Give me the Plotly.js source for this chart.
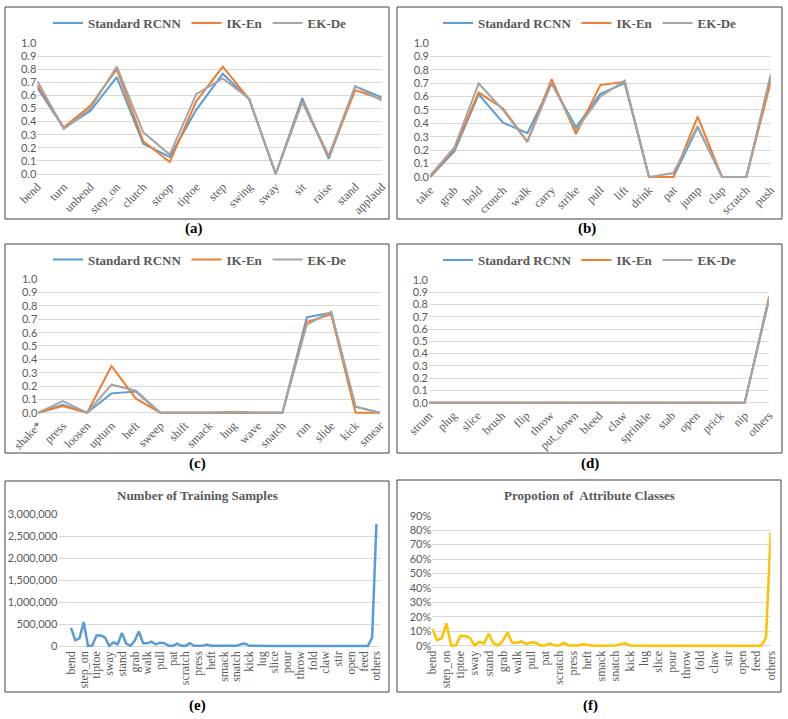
<!DOCTYPE html>
<html>
<head>
<meta charset="utf-8">
<script src="https://cdn.plot.ly/plotly-3.0.1.min.js"></script>
<style>html,body{margin:0;padding:0;background:#fff}</style>
</head>
<body>
<div id="chart" style="width:788px;height:719px"></div>
<script>
// ---- data ----
const seriesNames = ["Standard RCNN", "IK-En", "EK-De"];

const catsA = ["bend", "turn", "unbend", "step_on", "clutch", "stoop", "tiptoe", "step", "swing", "sway", "sit", "raise", "stand", "applaud"];
const rcnnA = [0.66, 0.35, 0.48, 0.74, 0.23, 0.13, 0.49, 0.765, 0.57, 0.0, 0.58, 0.115, 0.67, 0.585];
const ikA   = [0.68, 0.355, 0.52, 0.80, 0.25, 0.092, 0.555, 0.82, 0.57, 0.0, 0.55, 0.13, 0.64, 0.57];
const ekA   = [0.71, 0.343, 0.50, 0.82, 0.318, 0.148, 0.61, 0.73, 0.575, 0.0, 0.555, 0.14, 0.67, 0.56];

const catsB = ["take", "grab", "hold", "crouch", "walk", "carry", "strike", "pull", "lift", "drink", "pat", "jump", "clap", "scratch", "push"];
const rcnnB = [0.0, 0.19, 0.616, 0.406, 0.327, 0.698, 0.371, 0.62, 0.70, 0.0, 0.0, 0.37, 0.0, 0.0, 0.745];
const ikB   = [0.0, 0.21, 0.63, 0.512, 0.265, 0.73, 0.32, 0.686, 0.71, 0.0, 0.0, 0.45, 0.0, 0.0, 0.71];
const ekB   = [0.01, 0.22, 0.698, 0.50, 0.26, 0.70, 0.35, 0.60, 0.72, 0.0, 0.03, 0.38, 0.0, 0.0, 0.767];

const catsC = ["shake*", "press", "loosen", "upturn", "heft", "sweep", "shift", "smack", "hug", "wave", "snatch", "run", "slide", "kick", "smear"];
const rcnnC = [0.0, 0.06, 0.0, 0.145, 0.158, 0.0, 0.0, 0.0, 0.005, 0.0, 0.0, 0.715, 0.75, 0.045, 0.0];
const ikC   = [0.0, 0.05, 0.0, 0.35, 0.105, 0.0, 0.0, 0.0, 0.0, 0.0, 0.0, 0.68, 0.737, 0.0, 0.0];
const ekC   = [0.0, 0.087, 0.0, 0.21, 0.165, 0.0, 0.0, 0.0, 0.008, 0.0, 0.0, 0.66, 0.757, 0.045, 0.0];

const catsD = ["strum", "plug", "slice", "brush", "flip", "throw", "put_down", "bleed", "claw", "sprinkle", "stab", "open", "prick", "nip", "others"];
const rcnnD = [0, 0, 0, 0, 0, 0, 0, 0, 0, 0, 0, 0, 0, 0, 0.84];
const ikD   = [0, 0, 0, 0, 0, 0, 0, 0, 0, 0, 0, 0, 0, 0, 0.864];
const ekD   = [0, 0, 0, 0, 0, 0, 0, 0, 0, 0, 0, 0, 0, 0, 0.85];

// all attribute classes, as used by panels (e) and (f)
const catsAll = [
  "bend", "turn", "unbend", "step_on", "clutch", "stoop", "tiptoe", "step", "swing", "sway",
  "sit", "raise", "stand", "applaud", "take", "grab", "hold", "crouch", "walk", "carry",
  "strike", "pull", "lift", "drink", "pat", "jump", "clap", "scratch", "push", "shake*",
  "press", "loosen", "upturn", "heft", "sweep", "shift", "smack", "hug", "wave", "snatch",
  "run", "slide", "kick", "smear", "strum", "lug", "plug", "cut", "slice", "brush",
  "flip", "pour", "wipe", "scoop", "throw", "put_down", "bleed", "fold", "squeeze", "sprinkle",
  "claw", "stab", "rub", "stir", "peel", "tap", "open", "prick", "nip", "feed",
  "shake", "wash", "others"
];
const trainSamples = [
  415000, 130000, 180000, 545000, 3000, 8000, 240000, 238000, 195000, 5000,
  80000, 40000, 295000, 55000, 6000, 118000, 330000, 62000, 60000, 100000,
  35000, 75000, 65000, 6000, 3000, 55000, 4000, 3000, 62000, 5000,
  4000, 4000, 35000, 8000, 3000, 2000, 2000, 3000, 2000, 3000,
  40000, 58000, 6000, 2000, 1500, 3000, 1500, 1000, 2000, 1500,
  1000, 2000, 1000, 1000, 2500, 1500, 1000, 2000, 1000, 1500,
  2000, 1000, 2000, 1000, 1000, 2500, 1500, 1000, 2000, 1000,
  1500, 195000, 2780000
];
const proportion = [
  11.8, 3.8, 5.1, 15.5, 0.1, 0.2, 6.8, 6.7, 5.4, 0.1,
  2.7, 1.6, 8.3, 1.6, 0.2, 3.3, 9.3, 2.0, 2.0, 3.0,
  1.1, 2.3, 2.0, 0.2, 0.1, 1.6, 0.1, 0.1, 2.0, 0.1,
  0.1, 0.1, 1.0, 0.3, 0.1, 0.05, 0.05, 0.1, 0.05, 0.1,
  1.1, 1.6, 0.2, 0.05, 0.05, 0.1, 0.05, 0.03, 0.05, 0.05,
  0.03, 0.05, 0.03, 0.03, 0.07, 0.05, 0.03, 0.05, 0.03, 0.05,
  0.05, 0.03, 0.05, 0.03, 0.03, 0.07, 0.05, 0.03, 0.05, 0.03,
  0.05, 5.6, 78.3
];
const labelEvery = 3;

// ---- layout helpers (pixel -> paper) ----
const W = 788, H = 719;
const fx = px => px / W;
const fy = py => 1 - py / H;
// pixel of value r given two reference pixels p0 (value v0) and p1 (value v1)
const pixAt = (p0, p1, v0, v1, r) => p0 + (r - v0) * (p1 - p0) / (v1 - v0);

const colors = ["#5b9bd5", "#ed7d31", "#a5a5a5"];
const grey = "#595959";
const serif = "Liberation Serif, Times New Roman, serif";
const sans = "Lato, Liberation Sans, sans-serif";

const data = [];
const layout = {
  width: W, height: H,
  margin: {l: 0, r: 0, t: 0, b: 0},
  paper_bgcolor: "#fff", plot_bgcolor: "rgba(0,0,0,0)",
  shapes: [], annotations: []
};

function xAxis(n, x0, x1, extra) {
  return Object.assign({
    domain: [fx(x0), fx(x1)], anchor: n === 1 ? "y" : "y" + n,
    type: "category", showgrid: false, zeroline: false,
    showline: false, ticks: "", automargin: false,
    tickfont: {family: serif, size: 12, color: grey}
  }, extra || {});
}
function yAxis(n, pBottom, pTop, vBottom, vTop, r0, r1, extra) {
  const d0 = pixAt(pBottom, pTop, vBottom, vTop, r0);
  const d1 = pixAt(pBottom, pTop, vBottom, vTop, r1);
  return Object.assign({
    domain: [fy(d0), fy(d1)], anchor: n === 1 ? "x" : "x" + n,
    range: [r0, r1], showgrid: true, gridcolor: "#d9d9d9",
    gridwidth: 1, zeroline: false, showline: false, ticks: "", automargin: false,
    tickfont: {family: sans, size: 11, color: grey}
  }, extra || {});
}
function frame(x0, y0, x1, y1) {
  layout.shapes.push({type: "rect", xref: "paper", yref: "paper",
    x0: fx(x0), x1: fx(x1), y0: fy(y1), y1: fy(y0),
    line: {color: "#404040", width: 1}});
}
function caption(text, x, y) {
  layout.annotations.push({text: text, xref: "paper", yref: "paper", x: fx(x), y: fy(y),
    showarrow: false, xanchor: "center", yanchor: "middle",
    font: {family: serif, size: 15, color: "#000", weight: "bold"}});
}

// panels (a)-(d): three accuracy series each
const panels = [
  {cats: catsA, vals: [rcnnA, ikA, ekA], box: [5, 7, 389, 219], px: [37.3, 381.7], py: [174, 43], leg: [200, 23], cap: ["(a)", 194, 229]},
  {cats: catsB, vals: [rcnnB, ikB, ekB], box: [397, 7, 782, 219], px: [430, 770.7], py: [177, 43], leg: [590, 23], cap: ["(b)", 587, 229]},
  {cats: catsC, vals: [rcnnC, ikC, ekC], box: [5, 244, 389, 453], px: [38.3, 380], py: [412.7, 279.3], leg: [200, 259.5], cap: ["(c)", 197, 464]},
  {cats: catsD, vals: [rcnnD, ikD, ekD], box: [397, 244, 782, 453], px: [429, 769], py: [402.7, 280], leg: [590, 260], cap: ["(d)", 590, 464]}
];

panels.forEach((p, k) => {
  const n = k + 1;
  const xa = n === 1 ? "x" : "x" + n, ya = n === 1 ? "y" : "y" + n;
  const lg = n === 1 ? "legend" : "legend" + n;
  layout[n === 1 ? "xaxis" : "xaxis" + n] = xAxis(n, p.px[0], p.px[1], {tickangle: -45});
  layout[n === 1 ? "yaxis" : "yaxis" + n] = yAxis(n, p.py[0], p.py[1], 0, 1, -0.02, 1.006,
    {tickmode: "linear", tick0: 0, dtick: 0.1, tickformat: ".1f"});
  p.vals.forEach((v, s) => {
    data.push({x: p.cats, y: v, type: "scatter", mode: "lines", name: seriesNames[s],
      xaxis: xa, yaxis: ya, legend: lg, line: {color: colors[s], width: 2}, hoverinfo: "skip"});
  });
  layout[lg] = {orientation: "h", x: fx(p.leg[0]), y: fy(p.leg[1]), xanchor: "center", yanchor: "middle",
    bgcolor: "rgba(0,0,0,0)", font: {family: serif, size: 13, color: grey, weight: "bold"},
    itemwidth: 30, traceorder: "normal"};
  frame(...p.box);
  caption(...p.cap);
});

// panel (e): number of training samples
const ticksAll = catsAll.filter((c, i) => i % labelEvery === 0);
data.push({x: catsAll, y: trainSamples, type: "scatter", mode: "lines", showlegend: false,
  xaxis: "x5", yaxis: "y5", line: {color: "#5b9bd5", width: 2.5}, hoverinfo: "skip"});
layout.xaxis5 = xAxis(5, 58.3, 380, {tickangle: -90, range: [-3, 72.85], tickmode: "array", tickvals: ticksAll, ticktext: ticksAll});
layout.yaxis5 = yAxis(5, 646, 514.3, 0, 3000000, -40000, 3015000, {tickmode: "linear", tick0: 0, dtick: 500000, tickformat: ",d"});
frame(5, 481, 389, 692);
layout.annotations.push({text: "Number of Training Samples", xref: "paper", yref: "paper", x: fx(198), y: fy(495),
  showarrow: false, xanchor: "center", yanchor: "middle", font: {family: serif, size: 13, color: grey, weight: "bold"}});
caption("(e)", 197, 705);

// panel (f): proportion of attribute classes
data.push({x: catsAll, y: proportion, type: "scatter", mode: "lines", showlegend: false,
  xaxis: "x6", yaxis: "y6", line: {color: "#ffc000", width: 2.5}, hoverinfo: "skip"});
layout.xaxis6 = xAxis(6, 432.3, 770.7, {tickangle: -90, tickmode: "array", tickvals: ticksAll, ticktext: ticksAll});
layout.yaxis6 = yAxis(6, 645.7, 515.7, 0, 90, -1.2, 90.5, {tickmode: "linear", tick0: 0, dtick: 10, ticksuffix: "%"});
frame(397, 480, 781, 692);
layout.annotations.push({text: "Propotion of  Attribute Classes", xref: "paper", yref: "paper", x: fx(589), y: fy(495),
  showarrow: false, xanchor: "center", yanchor: "middle", font: {family: serif, size: 13, color: grey, weight: "bold"}});
caption("(f)", 590, 705);

Plotly.newPlot("chart", data, layout, {displayModeBar: false, staticPlot: true});
</script>
</body>
</html>
